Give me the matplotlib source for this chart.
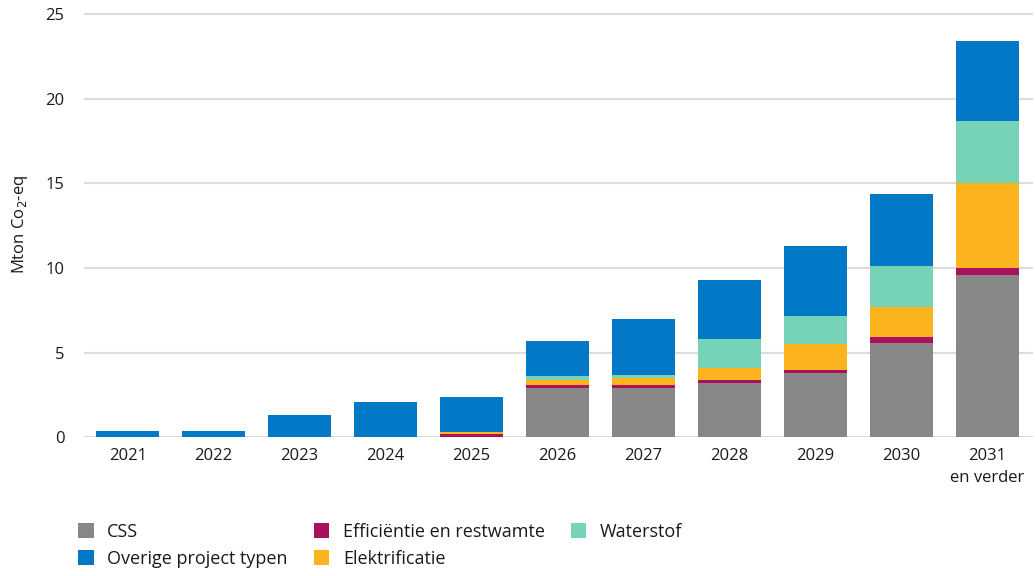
import matplotlib
matplotlib.use("Agg")
import matplotlib.pyplot as plt
import numpy as np

categories = ["2021", "2022", "2023", "2024", "2025", "2026", "2027", "2028", "2029", "2030", "2031\nen verder"]
css        = [0.0, 0.0, 0.0, 0.0, 0.0, 2.9, 2.9, 3.2, 3.8, 5.57, 9.6]
efficientie = [0.0, 0.0, 0.0, 0.0, 0.2, 0.2, 0.2, 0.2, 0.18, 0.36, 0.4]
elektrificatie = [0.0, 0.0, 0.0, 0.0, 0.1, 0.3, 0.42, 0.72, 1.55, 1.77, 5.03]
waterstof  = [0.0, 0.0, 0.0, 0.0, 0.0, 0.22, 0.16, 1.7, 1.64, 2.42, 3.68]
overige    = [0.37, 0.37, 1.34, 2.09, 2.08, 2.07, 3.32, 3.48, 4.13, 4.26, 4.71]

series = [
    ("CSS", css, "#878787"),
    ("Efficiëntie en restwamte", efficientie, "#a9115f"),
    ("Elektrificatie", elektrificatie, "#fbb41e"),
    ("Waterstof", waterstof, "#77d3b8"),
    ("Overige project typen", overige, "#0179c7"),
]

plt.rcParams['font.family'] = ['Open Sans', 'DejaVu Sans']

fig = plt.figure(figsize=(10.35, 5.76), dpi=100)
ax = fig.add_axes([0.0812, 0.2408, 0.9168, 0.7407])

x = np.arange(len(categories))
bottom = np.zeros(len(categories))
handles = {}
for name, vals, col in series:
    v = np.array(vals)
    b = ax.bar(x, v, bottom=bottom, width=0.733, color=col, label=name, zorder=3, linewidth=0)
    handles[name] = b
    bottom += v

ax.set_xlim(-0.507, 10.53)
ax.set_ylim(0, 25.2)
ax.set_yticks([0, 5, 10, 15, 20, 25])
ax.yaxis.grid(True, color="#dcdcdc", linewidth=1.5, zorder=0)
ax.set_axisbelow(True)
for s in ax.spines.values():
    s.set_visible(False)
ax.tick_params(axis="both", length=0, labelsize=12, colors="#1a1a1a")
ax.tick_params(axis="y", pad=14)
ax.tick_params(axis="x", pad=8)
ax.set_xticks(x)
ax.set_xticklabels(categories, linespacing=1.5)
ax.set_ylabel("Mton Co$_2$-eq", fontsize=12, color="#1a1a1a", labelpad=11)

order = ["CSS", "Overige project typen", "Efficiëntie en restwamte", "Elektrificatie", "Waterstof"]
leg = fig.legend([handles[n] for n in order], order, ncol=3, loc="upper left",
                 bbox_to_anchor=(0.06, 0.121), frameon=False, fontsize=13,
                 handlelength=0.85, handleheight=0.85, handletextpad=0.75,
                 columnspacing=1.45, labelspacing=0.5, labelcolor="#1a1a1a")

fig.savefig("out.png", dpi=100)
